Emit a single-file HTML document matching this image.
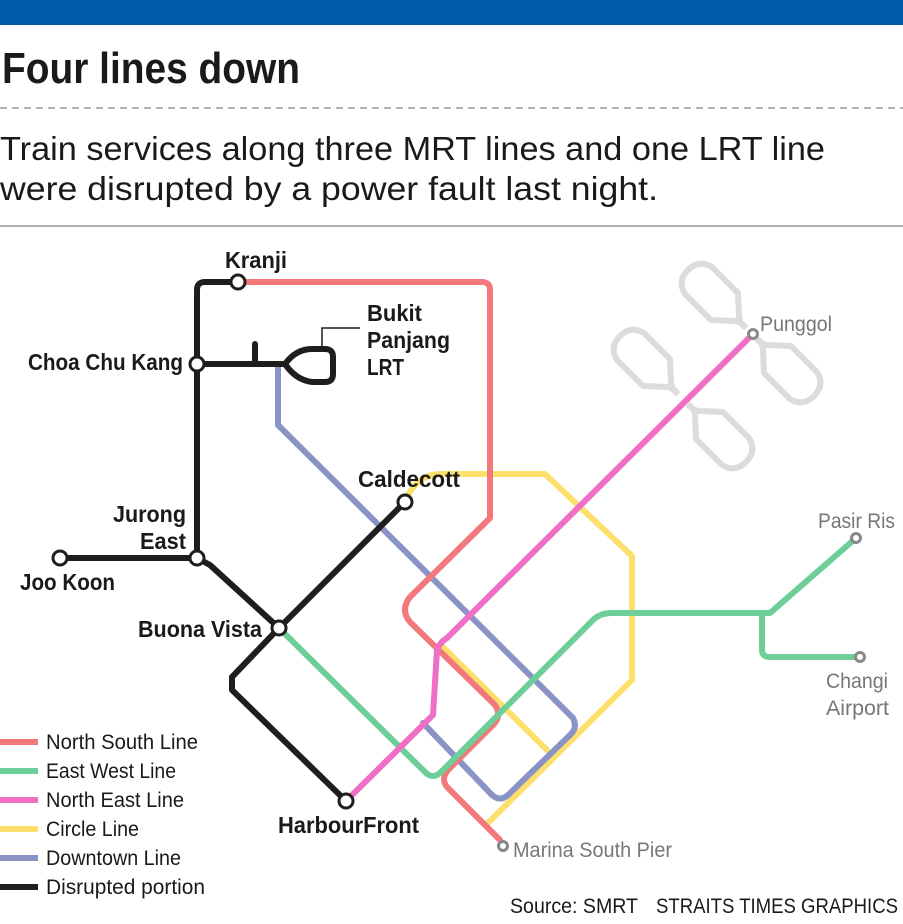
<!DOCTYPE html>
<html><head><meta charset="utf-8"><style>
html,body{margin:0;padding:0;background:#fff;}
svg{display:block;}
.b{font-family:"Liberation Sans Narrow","Liberation Sans",sans-serif;font-weight:bold;fill:#1a1a1a;}
.r{font-family:"Liberation Sans Narrow","Liberation Sans",sans-serif;fill:#1a1a1a;}
.g{font-family:"Liberation Sans Narrow","Liberation Sans",sans-serif;fill:#777;}
</style></head><body>
<svg width="903" height="924" viewBox="0 0 903 924" xmlns="http://www.w3.org/2000/svg">
<defs>
 <path id="pad" d="M-5,-5 Q-9,-11 -16,-12 L-40,-13 L-66,-39 Q-74,-52 -63,-63 Q-52,-74 -39,-66 L-13,-40 L-12,-16 Q-11,-9 -5,-5" fill="none" stroke="#dcdcdc" stroke-width="6" stroke-linejoin="round"/>
</defs>
<rect x="0" y="0" width="903" height="25" fill="#005bab"/>
<text x="2" y="83" class="b" font-size="44" textLength="298" lengthAdjust="spacingAndGlyphs">Four lines down</text>
<line x1="0" y1="108" x2="903" y2="108" stroke="#999" stroke-width="1.5" stroke-dasharray="7,5"/>
<text x="0" y="160" class="r" font-size="33" fill="#222" textLength="825" lengthAdjust="spacingAndGlyphs">Train services along three MRT lines and one LRT line</text>
<text x="0" y="200" class="r" font-size="33" fill="#222" textLength="658" lengthAdjust="spacingAndGlyphs">were disrupted by a power fault last night.</text>
<line x1="0" y1="226" x2="903" y2="226" stroke="#999" stroke-width="1.5"/>

<g transform="translate(751,333)">
 <use href="#pad"/>
 <use href="#pad" transform="rotate(180)"/>
</g>
<g transform="translate(683,399)">
 <use href="#pad"/>
 <use href="#pad" transform="rotate(180)"/>
</g>

<g fill="none" stroke-width="6" stroke-linejoin="round" stroke-linecap="round">
 <path d="M405 502 Q415 475 440 474 L545 474 L632 556 L632 680 L487 824" stroke="#fde06c"/>
 <path d="M443 647 L547 750" stroke="#fde06c"/>
 <path d="M278 364 L278 425 L573 718 Q578 728 570 735 L508 795 Q500 802 492 795 L423 723" stroke="#8a93c6"/>
 <path d="M238 282 L482 282 Q490 282 490 290 L490 518 L410 597 Q400 610 410 622 L495 705 Q502 715 494 724 L448 770 Q440 780 448 788 L500 840" stroke="#f2787c"/>
 <path d="M279 628 L425 772 Q433 780 441 772 L593 620 Q600 613 612 613 L770 613 L856 538" stroke="#6dce98"/>
 <path d="M762 613 L762 650 Q762 657 770 657 L860 657" stroke="#6dce98"/>
 <path d="M346 801 L433 715 L437 650 Q440 642 447 638 L753 334" stroke="#ef6fc7"/>
 <path d="M238 282 L205 282 Q197 282 197 290 L197 558" stroke="#1e1e1e"/>
 <path d="M197 364 L285 364" stroke="#1e1e1e"/>
 <path d="M255 364 L255 344" stroke="#1e1e1e"/>
 <path d="M285 364 Q296 349 312 349 L325 349 Q333 349 333 357 L333 374 Q333 382 325 382 L312 382 Q296 380 285 364 Z" stroke="#1e1e1e"/>
 <path d="M60 558 L197 558 L210 565 L279 628 L405 502" stroke="#1e1e1e"/>
 <path d="M279 628 L232 677 L232 690 L346 801" stroke="#1e1e1e"/>
</g>
<path d="M322 349 L322 328 L360 328" fill="none" stroke="#1e1e1e" stroke-width="1.5"/>

<g fill="#fff" stroke="#1e1e1e" stroke-width="3">
 <circle cx="238" cy="282" r="7"/>
 <circle cx="197" cy="364" r="7"/>
 <circle cx="197" cy="558" r="7"/>
 <circle cx="60" cy="558" r="7"/>
 <circle cx="279" cy="628" r="7"/>
 <circle cx="405" cy="502" r="7"/>
 <circle cx="346" cy="801" r="7"/>
</g>
<g fill="#fff" stroke="#888" stroke-width="3">
 <circle cx="753" cy="334" r="4.5"/>
 <circle cx="856" cy="538" r="4.5"/>
 <circle cx="860" cy="657" r="4.5"/>
 <circle cx="503" cy="846" r="4.5"/>
</g>

<g font-size="23">
<text x="225" y="268" class="b" textLength="62" lengthAdjust="spacingAndGlyphs">Kranji</text>
<text x="28" y="370" class="b" textLength="155" lengthAdjust="spacingAndGlyphs">Choa Chu Kang</text>
<text x="367" y="321" class="b" textLength="55" lengthAdjust="spacingAndGlyphs">Bukit</text>
<text x="367" y="348" class="b" textLength="83" lengthAdjust="spacingAndGlyphs">Panjang</text>
<text x="367" y="375" class="b" textLength="37" lengthAdjust="spacingAndGlyphs">LRT</text>
<text x="358" y="487" class="b" textLength="102" lengthAdjust="spacingAndGlyphs">Caldecott</text>
<text x="113" y="522" class="b" textLength="73" lengthAdjust="spacingAndGlyphs">Jurong</text>
<text x="140" y="549" class="b" textLength="46" lengthAdjust="spacingAndGlyphs">East</text>
<text x="20" y="590" class="b" textLength="95" lengthAdjust="spacingAndGlyphs">Joo Koon</text>
<text x="138" y="637" class="b" textLength="124" lengthAdjust="spacingAndGlyphs">Buona Vista</text>
<text x="278" y="833" class="b" textLength="141" lengthAdjust="spacingAndGlyphs">HarbourFront</text>
</g>
<g font-size="21">
<text x="760" y="331" class="g" textLength="72" lengthAdjust="spacingAndGlyphs">Punggol</text>
<text x="818" y="528" class="g" textLength="77" lengthAdjust="spacingAndGlyphs">Pasir Ris</text>
<text x="826" y="688" class="g" textLength="62" lengthAdjust="spacingAndGlyphs">Changi</text>
<text x="826" y="715" class="g" textLength="63" lengthAdjust="spacingAndGlyphs">Airport</text>
<text x="513" y="857" class="g" textLength="159" lengthAdjust="spacingAndGlyphs">Marina South Pier</text>
</g>

<g stroke-width="6">
 <line x1="0" y1="742" x2="38" y2="742" stroke="#f2787c"/>
 <line x1="0" y1="771" x2="38" y2="771" stroke="#6dce98"/>
 <line x1="0" y1="800" x2="38" y2="800" stroke="#ef6fc7"/>
 <line x1="0" y1="829" x2="38" y2="829" stroke="#fde06c"/>
 <line x1="0" y1="858" x2="38" y2="858" stroke="#8a93c6"/>
 <line x1="0" y1="887" x2="38" y2="887" stroke="#1e1e1e"/>
</g>
<g font-size="21">
<text x="46" y="749" class="r" textLength="152" lengthAdjust="spacingAndGlyphs">North South Line</text>
<text x="46" y="778" class="r" textLength="130" lengthAdjust="spacingAndGlyphs">East West Line</text>
<text x="46" y="807" class="r" textLength="138" lengthAdjust="spacingAndGlyphs">North East Line</text>
<text x="46" y="836" class="r" textLength="93" lengthAdjust="spacingAndGlyphs">Circle Line</text>
<text x="46" y="865" class="r" textLength="135" lengthAdjust="spacingAndGlyphs">Downtown Line</text>
<text x="46" y="894" class="r" textLength="159" lengthAdjust="spacingAndGlyphs">Disrupted portion</text>
</g>
<text x="510" y="913" class="r" font-size="21" textLength="128" lengthAdjust="spacingAndGlyphs">Source: SMRT</text>
<text x="656" y="913" class="r" font-size="21" textLength="242" lengthAdjust="spacingAndGlyphs">STRAITS TIMES GRAPHICS</text>
</svg>
</body></html>
